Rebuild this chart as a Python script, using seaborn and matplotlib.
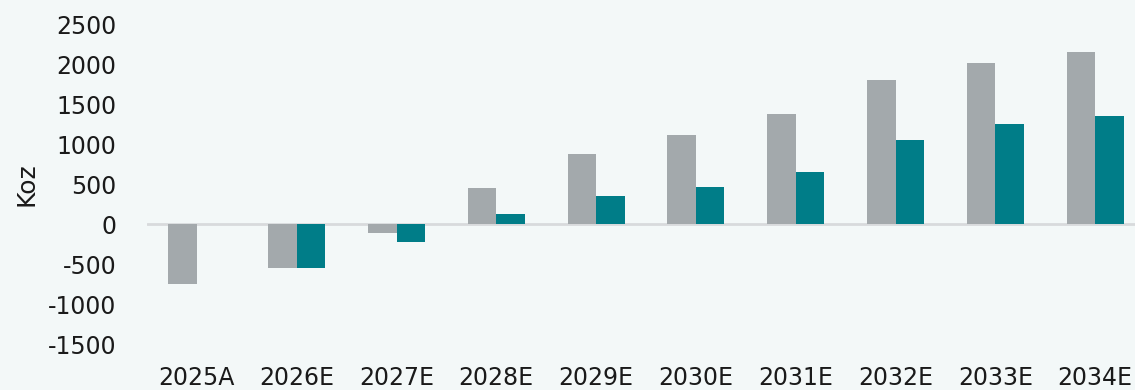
import matplotlib
matplotlib.use("Agg")
import matplotlib.pyplot as plt
import seaborn as sns
import pandas as pd

years = ["2025A", "2026E", "2027E", "2028E", "2029E",
         "2030E", "2031E", "2032E", "2033E", "2034E"]
series_a = [-750, -545, -110, 452, 872, 1115, 1381, 1802, 2010, 2144]
series_b = [0, -545, -227, 119, 344, 465, 648, 1052, 1252, 1356]
yticks = [-1500, -1000, -500, 0, 500, 1000, 1500, 2000, 2500]

grey = "#A3A9AC"
teal = "#007D88"
bg = "#F3F8F8"

df = pd.DataFrame({
    "year": years * 2,
    "value": series_a + series_b,
    "series": ["A"] * len(years) + ["B"] * len(years),
})

sns.set_theme(style="white")
plt.rcParams["font.family"] = ["DejaVu Sans"]

fig = plt.figure(figsize=(11.35, 3.9), dpi=100, facecolor=bg)
ax = fig.add_axes([147 / 1135, 46 / 390, 998 / 1135, 320 / 390])
ax.set_facecolor(bg)

sns.barplot(data=df, x="year", y="value", hue="series",
            palette=[grey, teal], width=0.57, gap=0,
            saturation=1, legend=False, ax=ax, linewidth=0)

ax.axhline(0, color="#D8DADC", linewidth=2, zorder=0.5)
ax.set_ylim(-1500, 2500)
ax.set_xlim(-0.5, 9.5)
ax.set_yticks(yticks)
ax.set_yticklabels([str(v) for v in yticks])
ax.tick_params(axis="y", length=0, pad=22, labelsize=17, labelcolor="#1A1A1A")
ax.tick_params(axis="x", length=0, pad=16, labelsize=17, labelcolor="#1A1A1A")
ax.set_xlabel("")
ax.set_ylabel("Koz", fontsize=18, color="#1A1A1A", labelpad=7)
for s in ax.spines.values():
    s.set_visible(False)

fig.savefig("out.png", dpi=100, facecolor=bg)
